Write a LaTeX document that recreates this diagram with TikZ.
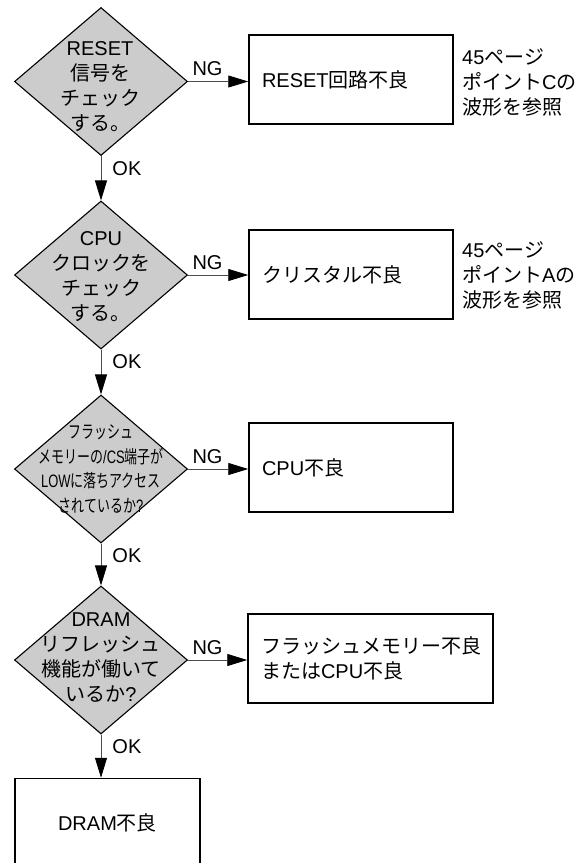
\documentclass[tikz,border=0pt]{standalone}
\usepackage{fontspec}
\setmainfont{Liberation Sans}
\newfontfamily\cjk{Noto Sans CJK JP}
\usepackage{graphicx}
\usetikzlibrary{shapes.geometric,arrows.meta}
\newcommand\J[1]{{\cjk #1}}
\newcommand\CN[1]{\scalebox{0.72}[1]{#1}}
\begin{document}
\begin{tikzpicture}[x=1pt,y=-1pt,
 dia/.style={diamond, draw=black, line width=1.1pt, fill=black!20, minimum width=173pt, minimum height=148pt, inner sep=0pt},
 txt/.style={font=\fontsize{20}{25}\selectfont, align=center, inner sep=0pt},
 ctxt/.style={font=\fontsize{18}{24.5}\selectfont, align=center, inner sep=0pt},
 box/.style={draw=black, line width=1.5pt, minimum height=89pt, inner xsep=13pt, align=left, font=\fontsize{20}{25}\selectfont},
 arr/.style={draw=black!70, line width=0.9pt, -{Triangle[length=20pt,width=12pt,color=black]}},
 lbl/.style={font=\fontsize{20}{24}\selectfont, inner sep=0pt},
 note/.style={font=\fontsize{20}{25}\selectfont, align=left, inner sep=0pt, anchor=west}]
\useasboundingbox (0,0) rectangle (586,863);
\clip (0,0) rectangle (586,863);
% decisions
\node[dia] (d1) at (101,81.5) {};
\node[dia] (d2) at (101,275) {};
\node[dia] (d3) at (101,469) {};
\node[dia] (d4) at (101,660) {};
\node[txt] (t1) at (100,87) {RESET\\\J{信号を}\\\J{チェック}\\\J{する。}};
\node[txt] (t2) at (101,277) {CPU\\\J{クロックを}\\\J{チェック}\\\J{する。}};
\node[ctxt] (t3) at (101,469) {\CN{\J{フラッシュ}}\\\CN{\J{メモリーの}/CS\J{端子が}}\\\CN{LOW\J{に落ちアクセス}}\\\CN{\J{されているか}?}};
\node[txt] (t4) at (101,658) {DRAM\\\J{リフレッシュ}\\\J{機能が働いて}\\\J{いるか}?};
% result boxes
\node[box, text width=178pt] (b1) at (351,79.5) {RESET\J{回路不良}};
\node[box, text width=178pt] (b2) at (351,274.5) {\J{クリスタル不良}};
\node[box, text width=178pt] (b3) at (351,467.5) {CPU\J{不良}};
\node[box, text width=219pt] (b4) at (370.5,658.5) {\J{フラッシュメモリー不良}\\\J{または}CPU\J{不良}};
\node[box, text width=159pt, align=center] (b5) at (107.5,823) {DRAM\J{不良}};
% notes
\node[note] (n1) at (462,82) {45\J{ページ}\\\J{ポイント}C\J{の}\\\J{波形を参照}};
\node[note] (n2) at (462,275) {45\J{ページ}\\\J{ポイント}A\J{の}\\\J{波形を参照}};
% NG arrows
\draw[arr] (d1.east) node[lbl, anchor=south west, xshift=4pt, yshift=5pt] {NG} -- (d1.east -| b1.west);
\draw[arr] (d2.east) node[lbl, anchor=south west, xshift=4pt, yshift=5pt] {NG} -- (d2.east -| b2.west);
\draw[arr] (d3.east) node[lbl, anchor=south west, xshift=4pt, yshift=5pt] {NG} -- (d3.east -| b3.west);
\draw[arr] (d4.east) node[lbl, anchor=south west, xshift=4pt, yshift=5pt] {NG} -- (d4.east -| b4.west);
% OK arrows
\draw[arr] (d1.south) node[lbl, anchor=north west, xshift=11pt, yshift=-5pt] {OK} -- (d2.north);
\draw[arr] (d2.south) node[lbl, anchor=north west, xshift=11pt, yshift=-5pt] {OK} -- (d3.north);
\draw[arr] (d3.south) node[lbl, anchor=north west, xshift=11pt, yshift=-5pt] {OK} -- (d4.north);
\draw[arr] (d4.south) node[lbl, anchor=north west, xshift=11pt, yshift=-5pt] {OK} -- (d4.south |- b5.north);
\end{tikzpicture}
\end{document}
